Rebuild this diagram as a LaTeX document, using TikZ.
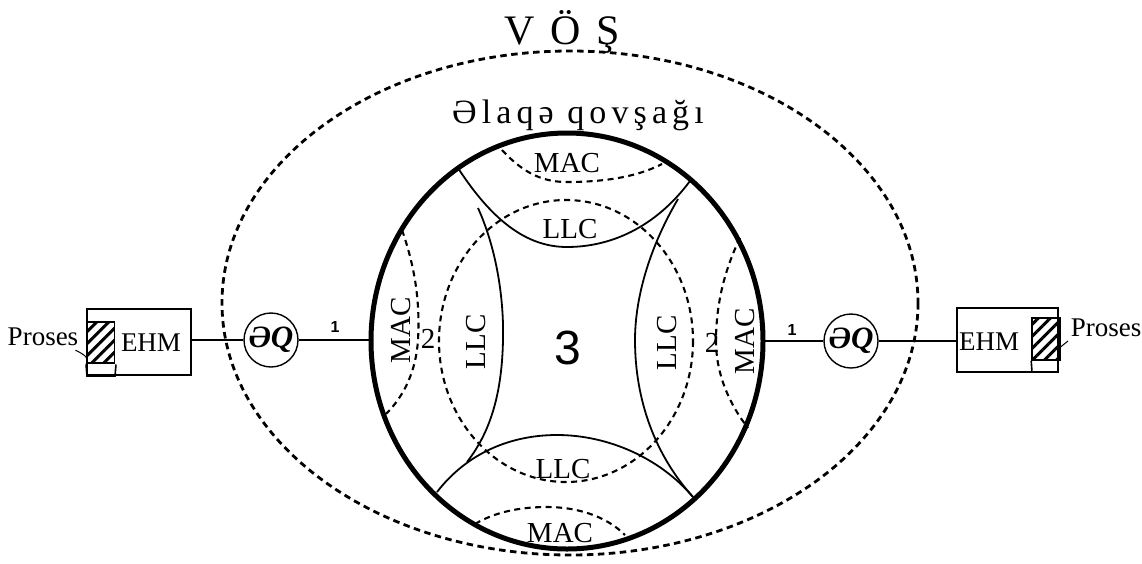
\documentclass[tikz,border=0pt]{standalone}
\usepackage{fontspec}
\setmainfont{Liberation Serif}
\newfontfamily\labsans{Liberation Sans}
\newfontfamily\vosfont[LetterSpace=12]{Liberation Serif}
\newfontfamily\elaqefont[LetterSpace=15]{Liberation Serif}
\usetikzlibrary{patterns.meta}
\begin{document}
\begin{tikzpicture}[x=1pt,y=-1pt,
  outerdash/.style={line width=2.8pt,dash pattern=on 6.5pt off 4.5pt},
  innerdash/.style={line width=2.1pt,dash pattern=on 6pt off 4.5pt},
  ring/.style={line width=5pt},
  arcline/.style={line width=1.8pt},
  box/.style={draw,line width=2pt,rectangle,minimum width=104pt,minimum height=66pt},
  hatch/.style={draw,line width=1.6pt,pattern={Lines[angle=45,distance=8.5pt,line width=3pt]}},
  eq/.style={draw,circle,line width=1.4pt,minimum size=54pt,inner sep=0pt,font=\fontsize{31}{33}\selectfont\bfseries\itshape},
  lab/.style={font=\fontsize{29}{31}\selectfont,inner sep=0pt},
  one/.style={font=\labsans\fontsize{16}{18}\selectfont\bfseries,inner sep=0pt},
  conn/.style={line width=1.6pt}]
\useasboundingbox (0,0) rectangle (1142,563);
\fill[white] (0,0) rectangle (1142,563);

% outer dashed ellipse (VÖŞ)
\draw[outerdash] (570,303) ellipse [x radius=348, y radius=252];
\node[font=\vosfont\fontsize{42}{44}\selectfont,inner sep=0pt] (vos) at (562,32) {V Ö Ş};
\node[font=\elaqefont\fontsize{34}{36}\selectfont,inner sep=0pt] (elaqe) at (578,115) {Əlaqə qovşağı};

% inner dashed ellipse
\draw[innerdash] (566,341) ellipse [x radius=127, y radius=141];

% MAC dashed arcs
\draw[innerdash] (502,150) .. controls (525,175) and (545,182) .. (567,182) .. controls (600,182) and (635,178) .. (662,164);
\draw[innerdash] (475,524) .. controls (495,512) and (520,507) .. (547,507) .. controls (575,507) and (605,515) .. (625,535);
\draw[innerdash] (402,230) .. controls (416,270) and (420,305) .. (418,340) .. controls (416,370) and (405,395) .. (386,414);
\draw[innerdash] (740,238) .. controls (722,275) and (716,310) .. (716,341) .. controls (716,375) and (730,405) .. (748,428);

% solid inner arcs
\draw[arcline] (458,168) .. controls (495,225) and (530,247) .. (567,247) .. controls (610,247) and (655,228) .. (690,181);
\draw[arcline] (478,208) .. controls (497,250) and (504,300) .. (503,340) .. controls (502,390) and (492,430) .. (467,462);
\draw[arcline] (678,199) .. controls (648,250) and (635,300) .. (635,340) .. controls (635,400) and (655,455) .. (693,497);
\draw[arcline] (437,492) .. controls (468,452) and (512,435) .. (557,435) .. controls (608,435) and (660,458) .. (693,497);

% thick ring
\draw[ring] (567,341) ellipse [x radius=196, y radius=208];
\coordinate (ringL) at (371,340);
\coordinate (ringR) at (763,341);

% labels inside
\node[lab] (mact) at (567,163) {MAC};
\node[lab] (llct) at (570,229) {LLC};
\node[lab] (llcb) at (563,469) {LLC};
\node[lab] (macb) at (560,533) {MAC};
\node[lab,rotate=90] (macl) at (401,330) {MAC};
\node[lab] (twol) at (428,339) {2};
\node[lab,rotate=90] (llcl) at (476,342) {LLC};
\node[font=\labsans\fontsize{48}{50}\selectfont,inner sep=0pt] (three) at (568,348) {3};
\node[lab,rotate=90] (llcr) at (667,343) {LLC};
\node[lab] (twor) at (712,343) {2};
\node[lab,rotate=90] (macr) at (745,341) {MAC};

% left side
\node[box] (ehmL) at (139,342) {};
\node[lab,font=\fontsize{27}{29}\selectfont] (ehmLt) at (151,343) {EHM};
\node[hatch,minimum width=27pt,minimum height=41pt,inner sep=0pt] (hatL) at (101,342.5) {};
\draw[line width=1.6pt] (hatL.south west) -- (87,376) -- (115,376) -- (hatL.south east);
\node[lab,font=\fontsize{27}{29}\selectfont] (prL) at (43,337) {Proses};
\draw[line width=1pt] (prL.south east) ++(-3,4) coordinate (prLa) .. controls (85,355) and (90,358) .. (hatL.south west);
\node[eq] (eqL) at (271,340) {ƏQ};
\node[one] (oneL) at (335,327) {1};
\draw[conn] (ehmL.east |- eqL.west) -- (eqL.west);
\draw[conn] (eqL.east) -- (ringL);

% right side
\node[box,minimum width=101pt,minimum height=64pt] (ehmR) at (1007.5,340) {};
\node[lab,font=\fontsize{27}{29}\selectfont] (ehmRt) at (989,342) {EHM};
\node[hatch,minimum width=28pt,minimum height=42pt,inner sep=0pt] (hatR) at (1046,339) {};
\draw[line width=1.6pt] (hatR.south west) -- (1032,372);
\node[lab,font=\fontsize{27}{29}\selectfont] (prR) at (1106,328) {Proses};
\draw[line width=1pt] (1068,341) -- (1058,349);
\node[eq] (eqR) at (851,341) {ƏQ};
\node[one] (oneR) at (792,330) {1};
\draw[conn] (ringR) -- (eqR.west);
\draw[conn] (eqR.east) -- (ehmR.west |- eqR.east);
\end{tikzpicture}
\end{document}
